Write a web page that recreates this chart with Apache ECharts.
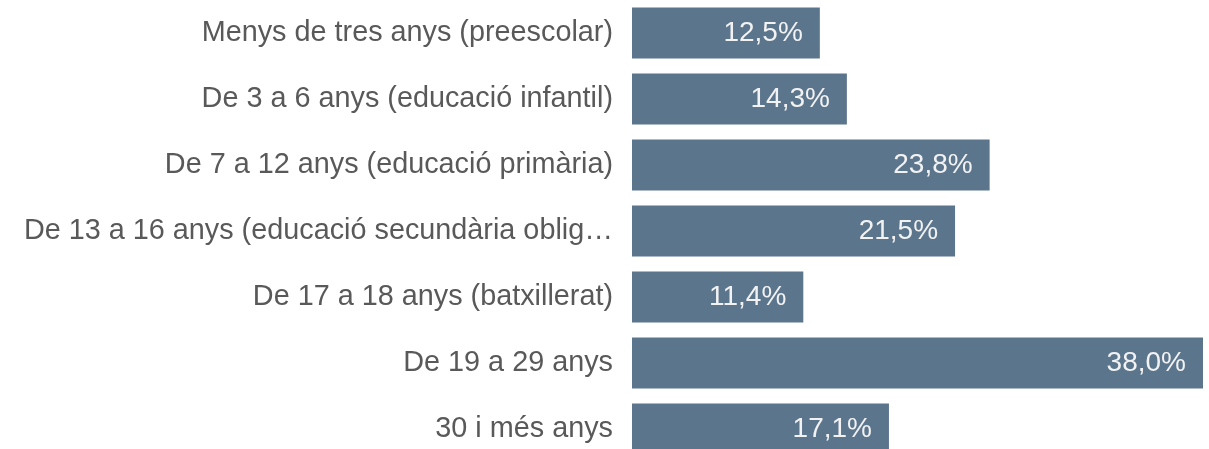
<!DOCTYPE html>
<html>
<head>
<meta charset="utf-8">
<script src="https://cdn.jsdelivr.net/npm/echarts@6/dist/echarts.min.js"></script>
<style>
  html, body { margin: 0; padding: 0; background: #ffffff; overflow: hidden; }
  /* canvas is a little taller than the window, so the last bar is clipped at the bottom */
  #chart { width: 1209px; height: 462px; }
</style>
</head>
<body>
<div id="chart"></div>
<script>
// Age groups (top to bottom) and their share, in percent
const categories = [
  'Menys de tres anys (preescolar)',
  'De 3 a 6 anys (educació infantil)',
  'De 7 a 12 anys (educació primària)',
  'De 13 a 16 anys (educació secundària obligatòria)',
  'De 17 a 18 anys (batxillerat)',
  'De 19 a 29 anys',
  '30 i més anys'
];
const shares = [12.5, 14.3, 23.8, 21.5, 11.4, 38.0, 17.1];

const fmt = v => v.toFixed(1).replace('.', ',') + '%';

const chart = echarts.init(document.getElementById('chart'), null, { renderer: 'canvas' });
chart.setOption({
  animation: false,
  grid: { left: 632, right: 6, top: 0, bottom: 0, containLabel: false },
  xAxis: {
    type: 'value', min: 0, max: 38,
    show: false
  },
  yAxis: {
    type: 'category',
    inverse: true,
    data: categories,
    axisLine: { show: false },
    axisTick: { show: false },
    axisLabel: {
      margin: 19,
      fontFamily: 'Liberation Sans, Arial, sans-serif',
      fontSize: 28.8,
      color: '#595959',
      width: 608,
      overflow: 'truncate',
      ellipsis: '…'
    }
  },
  series: [{
    type: 'bar',
    data: shares,
    barWidth: 51,
    itemStyle: { color: '#5b758d' },
    label: {
      show: true,
      position: 'insideRight',
      distance: 17,
      formatter: p => fmt(p.value),
      fontFamily: 'Liberation Sans, Arial, sans-serif',
      fontSize: 28,
      color: '#f2f2f2'
    }
  }]
});
</script>
</body>
</html>
